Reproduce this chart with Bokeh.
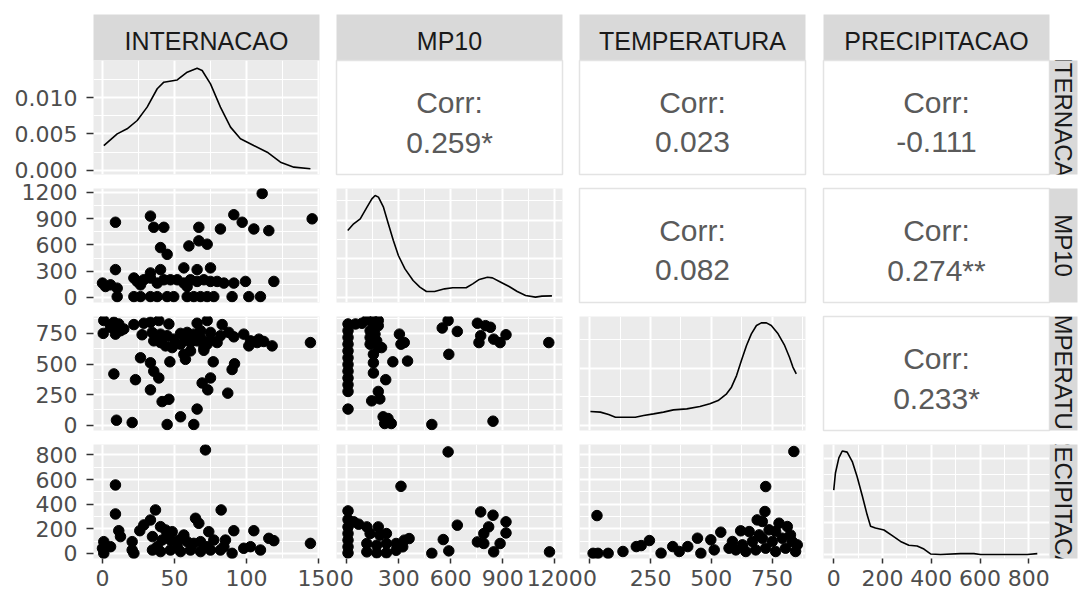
import math
from bokeh.plotting import figure
from bokeh.models import Range1d, FixedTicker, Grid, LinearAxis, PrintfTickFormatter, GridBox, Row
from bokeh.core.properties import value
from bokeh.embed import file_html
from bokeh.resources import INLINE

# ---------------- data ----------------
variables = ["INTERNACAO", "MP10", "TEMPERATURA", "PRECIPITACAO"]

corr_pairs = [(0, 1), (0, 2), (0, 3), (1, 2), (1, 3), (2, 3)]
corr_labels = ["0.259*", "0.023", "-0.111", "0.082", "0.274**", "0.233*"]

var_limits = [(-6.25, 150.7), (-59, 1245), (-43, 888), (-42, 885)]
var_ticks = [[0, 50, 100, 150], [0, 300, 600, 900, 1200], [0, 250, 500, 750], [0, 200, 400, 600, 800]]

dens_limits = [(-0.00055, 0.01507), (-0.000133, 0.00282), (-0.00018, 0.003825), (-0.000249, 0.006876)]
dens_ticks = [[0, 0.005, 0.010], [0, 0.001, 0.002], [0, 0.002], [0, 0.002, 0.004, 0.006]]

int_dens_x = [0.9, 10.2, 17.1, 24.1, 31.0, 38.0, 42.6, 51.9, 58.8, 65.7, 69.2, 75.0, 81.9, 88.9, 95.8,
              105.0, 114.4, 123.6, 132.9, 144.4]
int_dens_y = [0.00342, 0.00502, 0.00571, 0.00685, 0.00868, 0.0112, 0.0121, 0.0124, 0.01347, 0.0140,
              0.0137, 0.01187, 0.00868, 0.00594, 0.00434, 0.00342, 0.00251, 0.00114, 0.00046, 0.00023]

mp10_dens_x = [5.9, 40, 78, 117, 145, 164, 183, 212, 240, 269, 298, 336, 383, 422, 460, 507, 565, 612,
               689, 727, 765, 812, 841, 889, 937, 984, 1032, 1089, 1127, 1184]
mp10_dens_y = [1.733e-3, 1.905e-3, 2.035e-3, 2.336e-3, 2.551e-3, 2.640e-3, 2.596e-3, 2.336e-3, 1.905e-3,
               1.474e-3, 1.084e-3, 0.738e-3, 0.437e-3, 0.266e-3, 0.151e-3, 0.151e-3, 0.221e-3, 0.248e-3,
               0.248e-3, 0.351e-3, 0.464e-3, 0.523e-3, 0.505e-3, 0.393e-3, 0.281e-3, 0.151e-3, 0.047e-3,
               0.006e-3, 0.032e-3, 0.038e-3]

temp_dens_x = [2, 43, 77, 105, 153, 187, 221, 262, 303, 344, 399, 453, 494, 528, 563, 583, 604, 624, 645,
               665, 686, 706, 727, 747, 775, 802, 822, 836, 850]
temp_dens_y = [0.489e-3, 0.465e-3, 0.380e-3, 0.288e-3, 0.288e-3, 0.288e-3, 0.348e-3, 0.405e-3, 0.465e-3,
               0.545e-3, 0.581e-3, 0.665e-3, 0.757e-3, 0.873e-3, 1.109e-3, 1.342e-3, 1.750e-3, 2.279e-3,
               2.808e-3, 3.216e-3, 3.508e-3, 3.600e-3, 3.600e-3, 3.508e-3, 3.216e-3, 2.808e-3, 2.395e-3,
               2.047e-3, 1.810e-3]

prec_dens_x = [0, 7, 21, 35, 55, 76, 96, 117, 137, 151, 171, 206, 240, 274, 308, 342, 370, 397, 438, 520,
               575, 602, 794, 835]
prec_dens_y = [4.026e-3, 5.094e-3, 6.042e-3, 6.470e-3, 6.398e-3, 5.807e-3, 4.859e-3, 3.669e-3, 2.480e-3,
               1.767e-3, 1.653e-3, 1.532e-3, 1.176e-3, 0.819e-3, 0.584e-3, 0.534e-3, 0.342e-3, 0.036e-3,
               0.005e-3, 0.057e-3, 0.057e-3, 0.005e-3, 0.005e-3, 0.057e-3]

int_mp10_x = [110.9, 145.6, 9.0, 33.3, 35.6, 42.6, 40.3, 44.9, 60.0, 66.9, 66.9, 72.7, 81.9, 91.2, 97.0,
              105.1, 115.5, 9.0, 40.3, 56.5, 65.7, 75.0, 33.3, 0.0, 2.1, 5.6, 10.2, 21.8, 24.1, 28.7, 33.3,
              38.0, 42.6, 47.2, 51.9, 56.5, 61.1, 65.7, 70.4, 75.0, 79.6, 84.3, 91.2, 99.3, 119.0, 26.4,
              58.8, 10.2, 21.8, 26.4, 33.3, 38.0, 44.9, 49.5, 58.8, 63.4, 68.1, 72.7, 77.3, 90.0, 101.6, 109.7]
int_mp10_y = [1188, 898, 859, 929, 801, 801, 569, 492, 588, 801, 646, 608, 782, 945, 859, 782, 763, 317,
              317, 337, 317, 337, 279, 163, 124, 143, 105, 221, 182, 201, 221, 163, 201, 201, 201, 163, 201,
              182, 201, 182, 182, 163, 163, 182, 182, 143, 124, 8, 8, 8, 8, 8, 8, 8, 8, 8, 8, 8, 8, 8, 8, 8]

int_temp_x = [0.9, 7.9, 11.3, 21.8, 28.7, 33.3, 39.1, 46.1, 65.7, 72.7, 83.1, 0.5, 9.0, 12.5, 27.5, 34.5,
              40.3, 44.9, 54.2, 58.8, 63.4, 68.1, 75.0, 81.9, 91.2, 98.1, 102.8, 112.0, 117.8, 144.4, 35.6,
              40.3, 43.8, 48.4, 54.2, 61.1, 65.7, 70.4, 72.7, 79.6, 101.6, 107.4, 56.5, 61.1, 70.4, 26.4,
              33.3, 46.8, 57.6, 76.9, 91.7, 90.0, 7.9, 35.6, 39.1, 22.9, 33.3, 69.2, 75.0, 73.1, 87.0, 41.4,
              46.1, 65.7, 54.2, 63.4, 44.9, 9.7, 20.6, 14.8, 5.6, 49.5, 57.6, 68.1, 87.7, 108.6, 75.0]
int_temp_y = [855, 841, 827, 822, 833, 841, 855, 827, 833, 855, 822, 750, 744, 772, 739, 758, 744, 731,
              750, 758, 744, 772, 758, 731, 722, 744, 689, 684, 648, 675, 689, 675, 648, 634, 662, 675, 689,
              634, 662, 675, 648, 675, 579, 607, 612, 551, 510, 518, 538, 518, 502, 455, 419, 441, 386, 372,
              289, 345, 386, 289, 262, 193, 212, 132, 69, 6, 6, 41, 22, 786, 800, 703, 703, 717, 758, 703, 703]

int_prec_x = [71.5, 9.0, 9.0, 36.8, 82.4, 64.6, 66.9, 33.3, 28.7, 25.9, 11.3, 12.5, 0.9, 0.0, 0.9, 5.6,
              20.6, 20.6, 21.8, 34.7, 40.3, 43.8, 48.4, 41.4, 47.2, 53.0, 58.8, 63.4, 68.1, 73.8, 77.3, 34.7,
              40.3, 47.2, 54.2, 61.1, 68.1, 75.0, 81.9, 85.4, 91.2, 90.0, 98.1, 105.1, 102.8, 109.7, 115.5,
              119.0, 144.4, 38.0, 51.9, 72.7, 84.3, 56.5, 44.9]
int_prec_y = [841, 556, 320, 353, 353, 285, 244, 271, 231, 184, 184, 136, 95, 41, 0, 54, 95, 27, 0, 136,
              217, 190, 176, 108, 108, 108, 95, 81, 95, 176, 108, 27, 14, 27, 14, 27, 14, 27, 27, 108, 184, 0,
              41, 184, 54, 27, 122, 103, 81, 54, 54, 54, 54, 149, 149]

mp10_temp_x = [7.5, 7.5, 7.5, 7.5, 7.5, 7.5, 7.5, 7.5, 7.5, 7.5, 7.5, 7.5, 50.6, 116, 154, 182, 135, 135,
               135, 154, 163, 173, 182, 182, 201, 154, 154, 154, 266, 351, 304, 313, 332, 225, 182, 144,
               191, 210, 219, 257, 238, 491, 585, 551, 638, 589, 754, 801, 829, 773, 763, 848, 885, 919,
               844, 1166, 88]
mp10_temp_y = [827, 772, 717, 662, 607, 551, 496, 441, 386, 331, 276, 132, 827, 860, 855, 855, 772, 717,
               662, 800, 744, 689, 813, 634, 634, 579, 510, 427, 518, 524, 744, 662, 675, 372, 276, 199,
               215, 69, 14, 14, 55, 6, 855, 794, 766, 579, 833, 813, 800, 731, 675, 703, 675, 739, 33, 675,
               833]

mp10_prec_x = [585, 313, 7.5, 7.5, 41, 69, 7.5, 7.5, 7.5, 7.5, 116, 182, 135, 191, 229, 116, 173, 229,
               285, 332, 360, 116, 173, 229, 285, 323, 491, 557, 589, 638, 773, 844, 919, 919, 819, 791,
               754, 791, 885, 848, 1170, 7.5]
mp10_prec_y = [825, 545, 345, 275, 256, 237, 161, 107, 53, 3, 215, 215, 161, 148, 161, 80, 66, 80, 80,
               107, 120, 12, 4, 4, 25, 53, 0, 112, 20, 229, 337, 310, 256, 166, 215, 161, 93, 80, 80, 12,
               12, 215]

temp_prec_x = [840, 724, 29, 721, 689, 710, 779, 813, 621, 539, 498, 443, 245, 191, 211, 136, 75, 13, 33,
               293, 341, 403, 368, 457, 512, 573, 587, 628, 669, 710, 751, 792, 833, 854, 601, 642, 683,
               724, 765, 806, 847, 656, 738, 697, 765, 826]
temp_prec_y = [828, 543, 307, 340, 272, 259, 245, 218, 183, 172, 110, 123, 104, 55, 63, 15, 0, 0, 0, 1,
               55, 55, 15, 0, 28, 42, 96, 69, 96, 123, 96, 123, 96, 69, 28, 15, 28, 42, 15, 42, 15, 177,
               191, 150, 177, 150]

density_series = [(int_dens_x, int_dens_y), (mp10_dens_x, mp10_dens_y),
                  (temp_dens_x, temp_dens_y), (prec_dens_x, prec_dens_y)]
scatter_series = {
    (1, 0): (int_mp10_x, int_mp10_y),
    (2, 0): (int_temp_x, int_temp_y),
    (3, 0): (int_prec_x, int_prec_y),
    (2, 1): (mp10_temp_x, mp10_temp_y),
    (3, 1): (mp10_prec_x, mp10_prec_y),
    (3, 2): (temp_prec_x, temp_prec_y),
}

# ---------------- layout / style ----------------
W, H = 1084, 590                 # every panel figure covers the whole page (transparent borders)
PANEL_W, PANEL_H = 226, 114
COL_LEFT = [93, 336, 579, 823]
ROW_TOP = [60, 188, 316, 444]
STRIP_TOP, STRIP_H = 14, 46
RSTRIP_LEFT, RSTRIP_W = 1049, 28
PANEL_BG = "#EBEBEB"
STRIP_BG = "#D9D9D9"
TICK_FONT = "DejaVu Sans"
TEXT_FONT = "Liberation Sans"


def minor_between(ticks, lo, hi):
    step = ticks[1] - ticks[0]
    cands = [ticks[0] - step / 2] + [t + step / 2 for t in ticks]
    return [m for m in cands if lo < m < hi]


def placed_fig(left, top, fw, fh, xr, yr, bg):
    p = figure(frame_width=fw, frame_height=fh,
               x_range=Range1d(*xr), y_range=Range1d(*yr),
               x_axis_location=None, y_axis_location=None,
               toolbar_location=None, output_backend="svg",
               min_border_left=left, min_border_top=top,
               min_border_right=W - left - fw, min_border_bottom=H - top - fh,
               background_fill_color=bg, border_fill_color=None,
               outline_line_color=None)
    p.grid.visible = False
    return p


def add_grid(p, dim, ticks, lims):
    g = Grid(dimension=dim,
             ticker=FixedTicker(ticks=ticks, minor_ticks=minor_between(ticks, *lims)),
             grid_line_color="white", grid_line_width=2,
             minor_grid_line_color="white", minor_grid_line_width=1)
    p.add_layout(g)


def add_axis(p, side, ticks, fmt=None):
    ax = LinearAxis(ticker=FixedTicker(ticks=ticks))
    if fmt:
        ax.formatter = PrintfTickFormatter(format=fmt)
    ax.axis_line_color = None
    ax.major_tick_line_color = "#333333"
    ax.major_tick_line_width = 1.5
    ax.major_tick_in = 0
    ax.minor_tick_line_color = None
    ax.major_label_text_font = TICK_FONT
    ax.major_label_text_font_size = "22px"
    ax.major_label_text_color = "#4D4D4D"
    if side == "left":
        ax.major_tick_out = 7
        ax.major_label_standoff = 9
    else:
        ax.major_tick_out = 5
        ax.major_label_standoff = 6
    p.add_layout(ax, side)


figs = []

# top strips
for c, name in enumerate(variables):
    s = placed_fig(COL_LEFT[c], STRIP_TOP, PANEL_W, STRIP_H, (0, 1), (0, 1), STRIP_BG)
    s.text(x=[0.5], y=[0.42], text=[name], text_align="center", text_baseline="middle",
           text_font=value(TEXT_FONT), text_font_size="25px", text_color="#1A1A1A")
    figs.append(s)

for r in range(4):
    for c in range(4):
        left, top = COL_LEFT[c], ROW_TOP[r]
        if r < c:
            p = placed_fig(left, top, PANEL_W, PANEL_H, (0, 1), (0, 1), "white")
            p.outline_line_color = "#E3E3E3"
            p.outline_line_width = 1.5
            label = corr_labels[corr_pairs.index((r, c))]
            p.text(x=[0.5, 0.5], y=[0.635, 0.285], text=["Corr:", label],
                   text_align="center", text_baseline="middle",
                   text_font=value(TEXT_FONT), text_font_size="30px", text_color="#5A5A5A")
        elif r == c:
            p = placed_fig(left, top, PANEL_W, PANEL_H, var_limits[c], dens_limits[r], PANEL_BG)
            add_grid(p, 0, var_ticks[c], var_limits[c])
            add_grid(p, 1, dens_ticks[r], dens_limits[r])
            dx, dy = density_series[r]
            p.line(dx, dy, line_color="black", line_width=1.6)
            if c == 0:
                add_axis(p, "left", dens_ticks[r], fmt="%.3f")
        else:
            p = placed_fig(left, top, PANEL_W, PANEL_H, var_limits[c], var_limits[r], PANEL_BG)
            add_grid(p, 0, var_ticks[c], var_limits[c])
            add_grid(p, 1, var_ticks[r], var_limits[r])
            sx, sy = scatter_series[(r, c)]
            p.scatter(sx, sy, size=10.5, fill_color="black", line_color="black")
            if c == 0:
                add_axis(p, "left", var_ticks[r])
        if r == 3:
            add_axis(p, "below", var_ticks[c])
        figs.append(p)
    # right strip
    rs = placed_fig(RSTRIP_LEFT, ROW_TOP[r], RSTRIP_W, PANEL_H, (0, 1), (0, 1), STRIP_BG)
    rs.text(x=[0.5], y=[0.5], text=[variables[r]], angle=-math.pi / 2,
            text_align="center", text_baseline="middle",
            text_font=value(TEXT_FONT), text_font_size="24px", text_color="#1A1A1A")
    figs.append(rs)

# each figure sits in its own Row wrapper so the grid does not align their frames;
# all wrappers share one grid cell and overlap (borders are transparent)
layout = GridBox(children=[(Row(children=[f]), 0, 0) for f in figs])

open("out.html", "w").write(file_html(layout, INLINE))
